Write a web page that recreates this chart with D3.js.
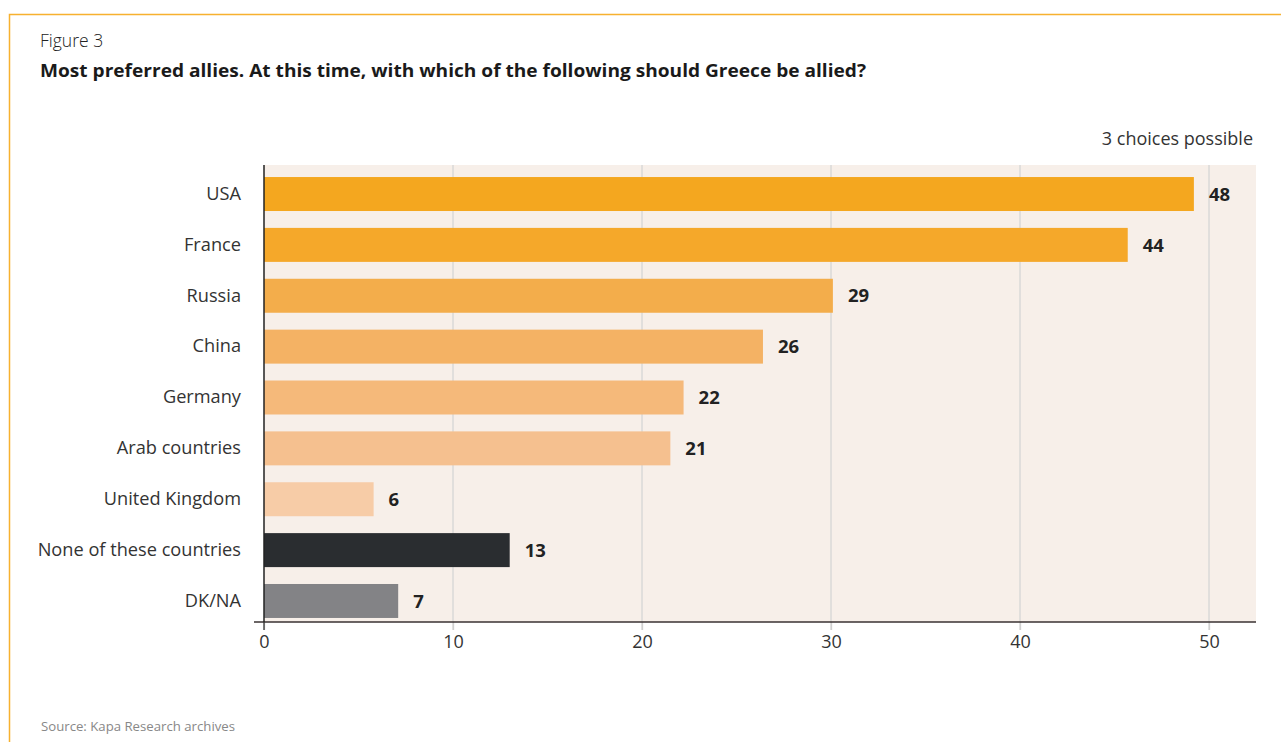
<!DOCTYPE html>
<html>
<head>
<meta charset="utf-8">
<script src="https://cdn.jsdelivr.net/npm/d3@7"></script>
<style>
  html, body { margin: 0; padding: 0; background: #fff; }
  svg { display: block; font-family: "Open Sans", "Noto Sans", sans-serif; }
</style>
</head>
<body>
<svg id="chart" width="1281" height="742"></svg>
<script>
// ---- data ----
const categories = ["USA", "France", "Russia", "China", "Germany", "Arab countries", "United Kingdom", "None of these countries", "DK/NA"];
// bar lengths as drawn in the picture
const barValues = [49.2, 45.7, 30.1, 26.4, 22.2, 21.5, 5.8, 13.0, 7.1];
// value labels as printed
const valueLabels = ["48", "44", "29", "26", "22", "21", "6", "13", "7"];
const barColors = ["#f4a71f", "#f5a82a", "#f3ad4b", "#f4b264", "#f5b97a", "#f5c08f", "#f7cca7", "#2a2d30", "#838386"];
const xTicks = [0, 10, 20, 30, 40, 50];
const titleFigure = "Figure 3";
const titleMain = "Most preferred allies. At this time, with which of the following should Greece be allied?";
const noteText = "3 choices possible";
const sourceText = "Source: Kapa Research archives";

// ---- layout ----
const svg = d3.select("#chart");
const plot = { left: 264, right: 1256, top: 165, bottom: 622 };

// frame
svg.append("path")
  .attr("d", `M9.5,742 L9.5,14.5 L1281,14.5`)
  .attr("fill", "none").attr("stroke", "#f7b12f").attr("stroke-width", 1.5);

svg.append("text").attr("x", 40).attr("y", 47)
  .attr("font-size", 17.5).attr("fill", "#222").attr("font-weight", 300)
  .text(titleFigure);
svg.append("text").attr("x", 40).attr("y", 77)
  .attr("textLength", 826).attr("lengthAdjust", "spacingAndGlyphs")
  .attr("font-size", 18).attr("font-weight", 700).attr("fill", "#1a1a1a")
  .text(titleMain);
svg.append("text").attr("x", 1253).attr("y", 145).attr("text-anchor", "end")
  .attr("font-size", 18).attr("fill", "#333").attr("font-weight", 400)
  .text(noteText);
svg.append("text").attr("x", 41).attr("y", 731)
  .attr("font-size", 13.2).attr("fill", "#888")
  .text(sourceText);

const x = d3.scaleLinear().domain([0, 50]).range([plot.left, 1209]);
const y = d3.scaleBand().domain(categories).range([169.4, 625.6]).paddingInner(0.332).paddingOuter(0.15);

// background
svg.append("rect").attr("x", plot.left).attr("y", plot.top)
  .attr("width", plot.right - plot.left).attr("height", plot.bottom - plot.top)
  .attr("fill", "#f7efe9");

// gridlines
svg.append("g").selectAll("line").data(xTicks.slice(1)).join("line")
  .attr("x1", d => x(d)).attr("x2", d => x(d))
  .attr("y1", plot.top).attr("y2", plot.bottom + 8)
  .attr("stroke", "#d6d6d6").attr("stroke-width", 1.3);

// bars
svg.append("g").selectAll("rect").data(categories).join("rect")
  .attr("x", x(0))
  .attr("y", d => y(d))
  .attr("width", (d, i) => x(barValues[i]) - x(0))
  .attr("height", y.bandwidth())
  .attr("fill", (d, i) => barColors[i]);

// value labels
svg.append("g").selectAll("text").data(categories).join("text")
  .attr("x", (d, i) => x(barValues[i]) + 15)
  .attr("y", d => y(d) + y.bandwidth() / 2)
  .attr("dy", "0.36em")
  .attr("font-size", 18.5).attr("font-weight", 700).attr("fill", "#222")
  .text((d, i) => valueLabels[i]);

// x axis
const xAxis = d3.axisBottom(x).tickValues(xTicks).tickSize(8).tickPadding(5).tickFormat(d3.format("d"));
const gx = svg.append("g").attr("transform", `translate(0,${plot.bottom})`).call(xAxis);
gx.select(".domain").remove();
gx.selectAll(".tick line").attr("stroke", "#d0d0d0").attr("stroke-width", 1.3);
gx.selectAll(".tick text").attr("font-size", 18).attr("fill", "#333").attr("font-family", "\"Open Sans\", sans-serif").attr("font-weight", 400);
svg.append("line").attr("x1", plot.left - 10).attr("x2", plot.right)
  .attr("y1", plot.bottom).attr("y2", plot.bottom)
  .attr("stroke", "#3a3232").attr("stroke-width", 1.5);
svg.append("line").attr("x1", x(0)).attr("x2", x(0))
  .attr("y1", plot.bottom + 8).attr("y2", plot.bottom)
  .attr("stroke", "#333").attr("stroke-width", 1.3);

// y axis
const yAxis = d3.axisLeft(y).tickSize(0).tickPadding(23);
const gy = svg.append("g").attr("transform", `translate(${plot.left},0)`).call(yAxis);
gy.select(".domain").remove();
gy.selectAll(".tick text").attr("font-size", 18.2).attr("fill", "#333").attr("font-family", "\"Open Sans\", sans-serif").attr("font-weight", 400);
svg.append("line").attr("x1", plot.left).attr("x2", plot.left)
  .attr("y1", plot.top).attr("y2", plot.bottom)
  .attr("stroke", "#222").attr("stroke-width", 1.5);
</script>
</body>
</html>
